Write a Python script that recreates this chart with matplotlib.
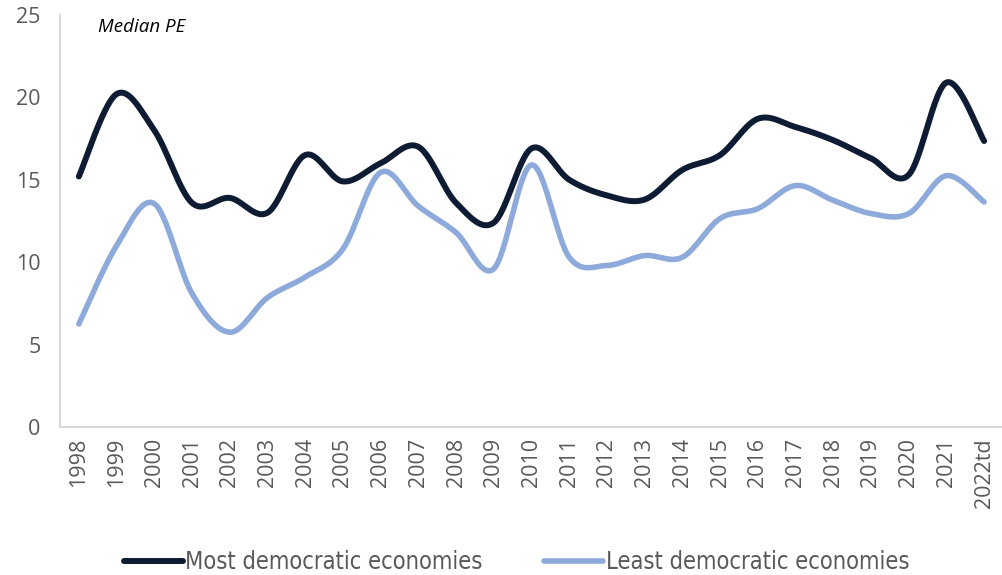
import numpy as np
import matplotlib
matplotlib.use("Agg")
import matplotlib.pyplot as plt
from matplotlib import font_manager

years = ["1998", "1999", "2000", "2001", "2002", "2003", "2004", "2005", "2006",
         "2007", "2008", "2009", "2010", "2011", "2012", "2013", "2014", "2015",
         "2016", "2017", "2018", "2019", "2020", "2021", "2022td"]
most_dem = [15.2, 20.2, 18.0, 13.6, 13.9, 13.0, 16.5, 14.9, 16.0, 17.0, 13.6, 12.4,
            16.9, 15.0, 14.05, 13.8, 15.6, 16.5, 18.7, 18.2, 17.4, 16.3, 15.3, 20.9, 17.35]
least_dem = [6.25, 11.0, 13.55, 8.1, 5.75, 7.85, 9.1, 10.8, 15.45, 13.4, 11.8, 9.6,
             15.9, 10.3, 9.8, 10.4, 10.3, 12.65, 13.25, 14.65, 13.75, 12.95, 12.95, 15.25, 13.65]

DARK = "#0e1c33"
LIGHT = "#8eaadb"
GREY = "#595959"


def smooth(x, y, n=30):
    # excel-like smoothed line: cubic bezier with catmull-rom control points
    x = np.asarray(x, float)
    y = np.asarray(y, float)
    px = np.concatenate([[x[0]], x, [x[-1]]])
    py = np.concatenate([[y[0]], y, [y[-1]]])
    xs, ys = [], []
    t = np.linspace(0, 1, n)
    for i in range(1, len(px) - 2):
        p0 = np.array([px[i], py[i]])
        p3 = np.array([px[i + 1], py[i + 1]])
        p1 = p0 + (np.array([px[i + 1], py[i + 1]]) - np.array([px[i - 1], py[i - 1]])) / 6
        p2 = p3 - (np.array([px[i + 2], py[i + 2]]) - np.array([px[i], py[i]])) / 6
        pts = ((1 - t) ** 3)[:, None] * p0 + (3 * (1 - t) ** 2 * t)[:, None] * p1 \
            + (3 * (1 - t) * t ** 2)[:, None] * p2 + (t ** 3)[:, None] * p3
        xs.extend(pts[:, 0])
        ys.extend(pts[:, 1])
    return np.array(xs), np.array(ys)


fonts = font_manager.fontManager.ttflist
names = {f.name for f in fonts}
tick_font = "Open Sans" if "Open Sans" in names else "DejaVu Sans"
narrow = [f for f in fonts if f.name in ("Liberation Sans Narrow", "DejaVu Sans")
          and f.stretch in ("condensed", "semi-condensed") and f.weight in (400, "normal")
          and f.style == "normal"]
if narrow:
    leg_prop = font_manager.FontProperties(fname=narrow[0].fname, size=17)
else:
    leg_prop = font_manager.FontProperties(family=tick_font, size=15.5)

fig = plt.figure(figsize=(10.03, 5.75), dpi=100)
ax = fig.add_axes([0.0598, 0.2574, 0.9402, 0.7166])

x = np.arange(len(years))
sx, sy = smooth(x, most_dem)
ax.plot(sx, sy, color=DARK, lw=4.3, solid_capstyle="round", label="Most democratic economies")
sx, sy = smooth(x, least_dem)
ax.plot(sx, sy, color=LIGHT, lw=4.0, solid_capstyle="round", label="Least democratic economies")

ax.set_xlim(-0.5, len(years) - 0.5)
ax.set_ylim(0, 25)
ax.set_yticks([0, 5, 10, 15, 20, 25])
ax.set_xticks(x)
ax.set_xticklabels(years, rotation=90)
ax.tick_params(length=0, labelcolor=GREY, labelsize=15.5)
ax.tick_params(axis="y", pad=14)
ax.tick_params(axis="x", pad=8)
for lab in ax.get_xticklabels() + ax.get_yticklabels():
    lab.set_fontfamily(tick_font)
for side in ["top", "right"]:
    ax.spines[side].set_visible(False)
for side in ["left", "bottom"]:
    ax.spines[side].set_color("#d9d9d9")
    ax.spines[side].set_linewidth(1.5)

ax.text(0.04, 0.97, "Median PE", transform=ax.transAxes, fontsize=13.5,
        style="italic", color="black", family=tick_font, va="center")

leg = fig.legend(loc="center", bbox_to_anchor=(0.515, 0.022), ncol=2, frameon=False,
                 handlelength=2.5, handletextpad=0.1, columnspacing=2.6,
                 prop=leg_prop)
for t in leg.get_texts():
    t.set_color(GREY)

fig.savefig("out.png", dpi=100)
